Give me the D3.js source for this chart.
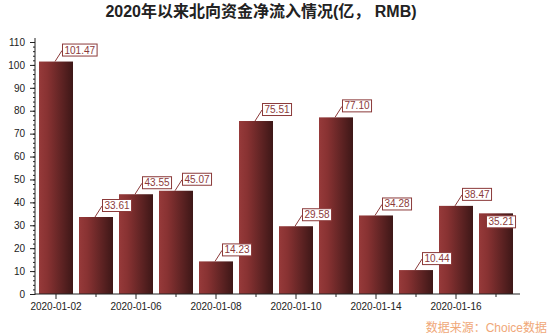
<!DOCTYPE html>
<html><head><meta charset="utf-8">
<script src="https://cdn.jsdelivr.net/npm/d3@7"></script>
<style>body{margin:0;background:#fff}svg{display:block}</style>
</head><body>
<svg id="c" width="551" height="335"></svg>
<script>
const dates = ["2020-01-02","2020-01-03","2020-01-06","2020-01-07","2020-01-08","2020-01-09","2020-01-10","2020-01-13","2020-01-14","2020-01-15","2020-01-16","2020-01-17"];
const values = [101.47,33.61,43.55,45.07,14.23,75.51,29.58,77.10,34.28,10.44,38.47,35.21];
const shownDates = ["2020-01-02","2020-01-06","2020-01-08","2020-01-10","2020-01-14","2020-01-16"];
const yTicks = [0,10,20,30,40,50,60,70,80,90,100,110];
const title = "2020年以来北向资金净流入情况(亿， RMB)";
const source = "数据来源：Choice数据";

(function(){
const svg = d3.select("#c");
const pL = 35, pR = 520, pT = 42, pB = 294;
const x = d3.scaleBand().domain(dates).range([36, 516]).paddingInner(0.15).paddingOuter(0.075);
const y = d3.scaleLinear().domain([0, 110]).range([pB, pT]);

const defs = svg.append("defs");
const g = defs.append("linearGradient").attr("id","bg").attr("x1","0").attr("x2","1").attr("y1","0").attr("y2","0");
g.append("stop").attr("offset","0%").attr("stop-color","#963a3a");
g.append("stop").attr("offset","25%").attr("stop-color","#883232");
g.append("stop").attr("offset","100%").attr("stop-color","#3d1717");

svg.append("text").attr("x", 261).attr("y", 17).attr("text-anchor","middle")
  .attr("font-family","'Liberation Sans', Arial, 'Noto Sans CJK SC', sans-serif").attr("font-weight","bold")
  .attr("font-size", 16).attr("fill","#222").text(title);

svg.append("g").selectAll("rect").data(values).join("rect")
  .attr("x",(d,i)=>x(dates[i])).attr("width",x.bandwidth())
  .attr("y",d=>y(d)).attr("height",d=>pB-y(d)).attr("fill","url(#bg)");

const ya = svg.append("g").attr("transform",`translate(${pL},0)`);
ya.call(d3.axisLeft(y).tickValues(d3.range(0,111,2)).tickSize(2).tickFormat(""))
  .call(s=>s.select(".domain").remove());
const yMaj = svg.append("g").attr("transform",`translate(${pL},0)`)
  .call(d3.axisLeft(y).tickValues(yTicks).tickSize(5).tickPadding(5).tickFormat(d3.format("d")));
yMaj.select(".domain").attr("d",`M0,${pB+1}V${pT-4}`);
svg.selectAll(".tick line").attr("stroke","#222");
yMaj.selectAll("text").attr("font-family","Arial, 'Liberation Sans', sans-serif").attr("font-size",10).attr("fill","#222");

const xa = svg.append("g").attr("transform",`translate(0,${pB})`)
  .call(d3.axisBottom(x).tickSize(3).tickFormat(d=>shownDates.includes(d)?d:""));
xa.select(".domain").attr("d",`M${pL},0H${pR}`);
xa.selectAll(".tick line").attr("y2",d=>shownDates.includes(d)?5:3).attr("stroke","#222");
xa.selectAll("text").attr("y",9).attr("font-family","Arial, 'Liberation Sans', sans-serif").attr("font-size",10).attr("fill","#222");
svg.selectAll(".domain").attr("stroke","#222");

const lab = svg.append("g");
values.forEach((v,i)=>{
  const cx = x(dates[i]) + x.bandwidth()/2;
  const ty = y(v);
  const txt = v.toFixed(2);
  const t = lab.append("text").attr("font-family","Arial, 'Liberation Sans', sans-serif")
    .attr("font-size",10).attr("fill","#8b3a3a").text(txt);
  const tw = t.node().getComputedTextLength();
  const bw = tw + 4, bh = 12;
  let bx = cx + 6, by = ty - 18, leader = true;
  if (bx + bw > pR) { bx = cx - 10; by = ty + 2; leader = false; }
  if (leader) lab.insert("line","text").attr("x1",cx-1).attr("y1",ty).attr("x2",cx+6).attr("y2",ty-11)
    .attr("stroke","#8b3a3a").attr("stroke-width",1);
  lab.insert("rect","text").attr("x",bx+0.5).attr("y",by+0.5).attr("width",bw).attr("height",bh)
    .attr("fill","#fff").attr("stroke","#8b3a3a").attr("stroke-width",1);
  t.attr("x",bx+2.5).attr("y",by+10);
});

svg.append("text").attr("x",547).attr("y",332).attr("text-anchor","end")
  .attr("font-family","'Liberation Sans', Arial, 'Noto Sans CJK SC', sans-serif").attr("font-size",12)
  .attr("fill","#f0a878").text(source);
})();
</script>
</body></html>
